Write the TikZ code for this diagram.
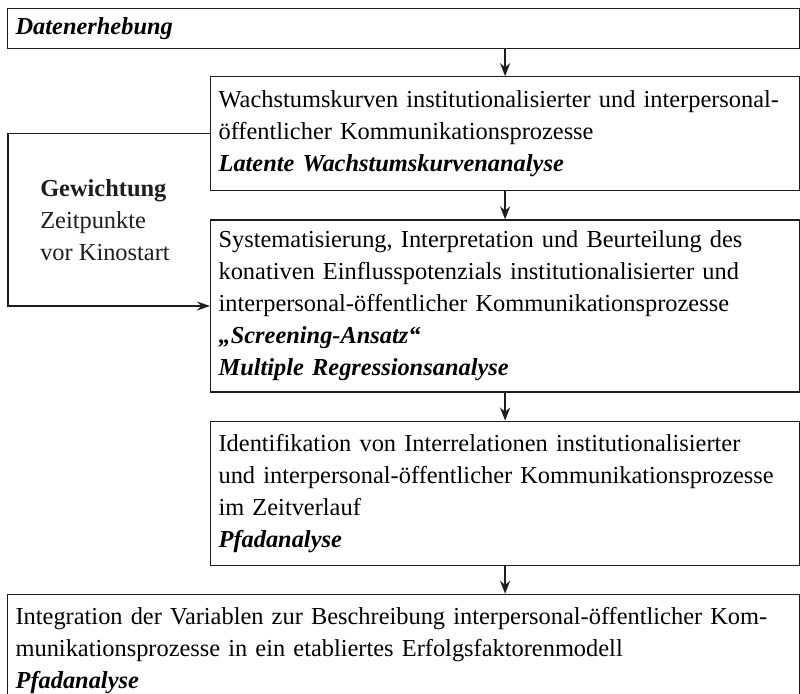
\documentclass[tikz,border=0pt]{standalone}
\usepackage{fontspec}
\setmainfont{Liberation Serif}
\usepackage{tikz}
\usetikzlibrary{arrows.meta, positioning, calc}
\definecolor{linecolor}{RGB}{30, 30, 30}
\tikzstyle{widebox} = [draw=linecolor, rectangle, minimum width=396pt, text width=388pt, inner xsep=4pt, align=left, line width=0.6pt, font=\fontsize{12.2}{16}\selectfont]
\tikzstyle{stagebox} = [draw=linecolor, rectangle, minimum width=294.5pt, text width=286.5pt, inner xsep=4pt, align=left, line width=0.6pt, font=\fontsize{12.2}{16}\selectfont]
\tikzstyle{arrow} = [line width=1pt,-{Stealth[length=6.5pt,width=5pt]},color=linecolor]
\tikzstyle{feedback} = [line width=0.6pt,-{Stealth[length=6.5pt,width=4.5pt]},color=linecolor]
\newcommand{\method}[1]{\textbf{\textit{#1}}}

\begin{document}
\begin{tikzpicture}[node distance=14pt]

\useasboundingbox (0,0) rectangle (400pt,-347pt);

% Nodes
\node (survey) [widebox, minimum height=20pt, anchor=north west] at (3.5pt,-4pt) {\method{Datenerhebung}};

\node (growth) [stagebox, minimum height=57pt, below=13.5pt of survey.south east, anchor=north east] {Wachstumskurven institutionalisierter und interpersonal-\\öffentlicher Kommunikationsprozesse\\\method{Latente Wachstumskurvenanalyse}};

\node (screening) [stagebox, minimum height=86pt, below=of growth.south east, anchor=north east] {Systematisierung, Interpretation und Beurteilung des\\konativen Einflusspotenzials institutionalisierter und\\interpersonal-öffentlicher Kommunikationsprozesse\\\method{„Screening-Ansatz“}\\\method{Multiple Regressionsanalyse}};

\node (relations) [stagebox, minimum height=72pt, below=of screening.south east, anchor=north east] {Identifikation von Interrelationen institutionalisierter\\und interpersonal-öffentlicher Kommunikationsprozesse\\im Zeitverlauf\\\method{Pfadanalyse}};

\node (integration) [widebox, minimum height=56pt, below=of relations.south east, anchor=north east] {Integration der Variablen zur Beschreibung interpersonal-öffentlicher Kom-\\munikationsprozesse in ein etabliertes Erfolgsfaktorenmodell\\\method{Pfadanalyse}};

% Arrows
\draw [arrow] (survey.south -| growth.north) -- (growth.north);
\draw [arrow] (growth) -- (screening);
\draw [arrow] (screening) -- (relations);
\draw [arrow] (relations.south) -- (relations.south |- integration.north);

\draw [feedback] (growth.west) -- ++(-101pt,0) |- node[pos=0.25, anchor=west, xshift=12.5pt, align=left, font=\fontsize{12.2}{16}\selectfont] (weighting) {\textbf{Gewichtung}\\Zeitpunkte\\vor Kinostart} (screening.west);

\end{tikzpicture}
\end{document}
